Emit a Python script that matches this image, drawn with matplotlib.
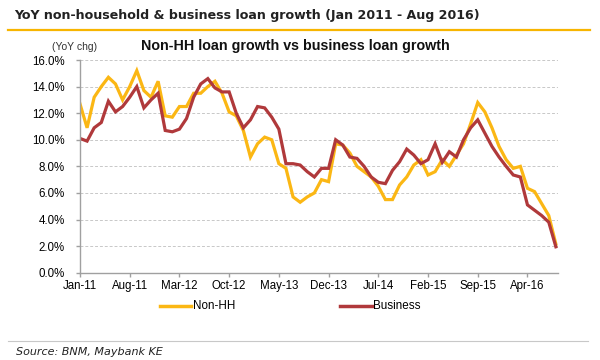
import numpy as np
import matplotlib.pyplot as plt
from matplotlib.lines import Line2D

# monthly YoY growth (%), Jan 2011 - Aug 2016
non_hh = [12.7, 10.9, 13.2, 14.0, 14.7, 14.2, 13.0, 14.0, 15.2, 13.7, 13.2, 14.4,
          11.8, 11.7, 12.5, 12.5, 13.5, 13.5, 14.0, 14.4, 13.5, 12.1, 11.8, 10.7,
          8.7, 9.7, 10.2, 10.0, 8.2, 7.85, 5.7, 5.3, 5.7, 6.0, 7.0, 6.85,
          9.7, 9.6, 9.0, 8.0, 7.6, 7.2, 6.5, 5.5, 5.5, 6.6, 7.2, 8.1,
          8.5, 7.35, 7.6, 8.5, 8.0, 8.85, 9.7, 11.2, 12.8, 12.1, 10.9, 9.5,
          8.5, 7.85, 8.0, 6.35, 6.1, 5.2, 4.3, 2.15]
business = [10.1, 9.9, 10.9, 11.3, 12.9, 12.1, 12.5, 13.2, 14.0, 12.4, 13.0, 13.5,
            10.7, 10.6, 10.8, 11.6, 13.2, 14.2, 14.6, 13.9, 13.6, 13.6, 12.0, 10.9,
            11.5, 12.5, 12.4, 11.7, 10.8, 8.2, 8.2, 8.1, 7.6, 7.2, 7.85, 7.85,
            10.0, 9.6, 8.7, 8.6, 8.0, 7.2, 6.8, 6.7, 7.7, 8.35, 9.3, 8.85,
            8.2, 8.5, 9.7, 8.3, 9.1, 8.7, 10.0, 10.9, 11.5, 10.5, 9.5, 8.7,
            8.0, 7.35, 7.2, 5.1, 4.7, 4.3, 3.8, 1.95]
tick_labels = ['Jan-11', 'Aug-11', 'Mar-12', 'Oct-12', 'May-13', 'Dec-13',
               'Jul-14', 'Feb-15', 'Sep-15', 'Apr-16']
y_ticks = [0, 2, 4, 6, 8, 10, 12, 14, 16]

yellow = '#FBB714'
red = '#B0393B'

months = np.arange(len(non_hh))

fig = plt.figure(figsize=(6, 3.6), dpi=100)
fig.patch.set_facecolor('white')
ax = fig.add_axes([0.1333, 0.2425, 0.7967, 0.5908])

ax.plot(months, non_hh, color=yellow, lw=2.3, solid_joinstyle='miter')
ax.plot(months, business, color=red, lw=2.3, solid_joinstyle='miter')

ax.set_xlim(0, 67.3)
ax.set_ylim(0, 16)
ax.set_yticks(y_ticks)
ax.set_yticklabels(['%.1f%%' % v for v in y_ticks])
ax.set_xticks(np.arange(0, 64, 7))
ax.set_xticklabels(tick_labels)
ax.yaxis.grid(True, color='#c8c8c8', ls=(0, (3, 2)), lw=0.7)
ax.set_axisbelow(True)
for s in ['top', 'right']:
    ax.spines[s].set_visible(False)
for s in ['left', 'bottom']:
    ax.spines[s].set_color('#a0a0a0')
    ax.spines[s].set_linewidth(1.0)
ax.tick_params(axis='both', colors='#a0a0a0', labelcolor='black', labelsize=8.3,
               length=3, width=1.0)
ax.tick_params(axis='x', pad=2)
ax.tick_params(axis='y', pad=8)
for lbl in ax.get_xticklabels() + ax.get_yticklabels():
    lbl.set_fontfamily('Liberation Sans')

# headers
fig.text(0.023, 0.958, 'YoY non-household & business loan growth (Jan 2011 - Aug 2016)',
         fontsize=9.1, fontweight='bold', color='#222222', va='center',
         family='DejaVu Sans')
fig.add_artist(Line2D([0.013, 0.983], [0.917, 0.917], color='#F7B500', lw=1.6))
fig.text(0.087, 0.869, '(YoY chg)', fontsize=7.5, color='#333333', va='center',
         family='Liberation Sans')
fig.text(0.492, 0.872, 'Non-HH loan growth vs business loan growth', fontsize=10.3,
         fontweight='bold', color='#111111', va='center', ha='center',
         family='Liberation Sans')

# legend
fig.add_artist(Line2D([0.267, 0.318], [0.15, 0.15], color=yellow, lw=2.5))
fig.text(0.321, 0.15, 'Non-HH', fontsize=8.4, va='center', family='Liberation Sans')
fig.add_artist(Line2D([0.567, 0.62], [0.15, 0.15], color=red, lw=2.5))
fig.text(0.622, 0.15, 'Business', fontsize=8.4, va='center', family='Liberation Sans')

# footer
fig.add_artist(Line2D([0.013, 0.98], [0.053, 0.053], color='#c8c8c8', lw=0.8))
fig.text(0.026, 0.022, 'Source: BNM, Maybank KE', fontsize=8, style='italic',
         color='#222222', va='center', family='DejaVu Sans')

fig.savefig('out.png', dpi=100, facecolor='white')
